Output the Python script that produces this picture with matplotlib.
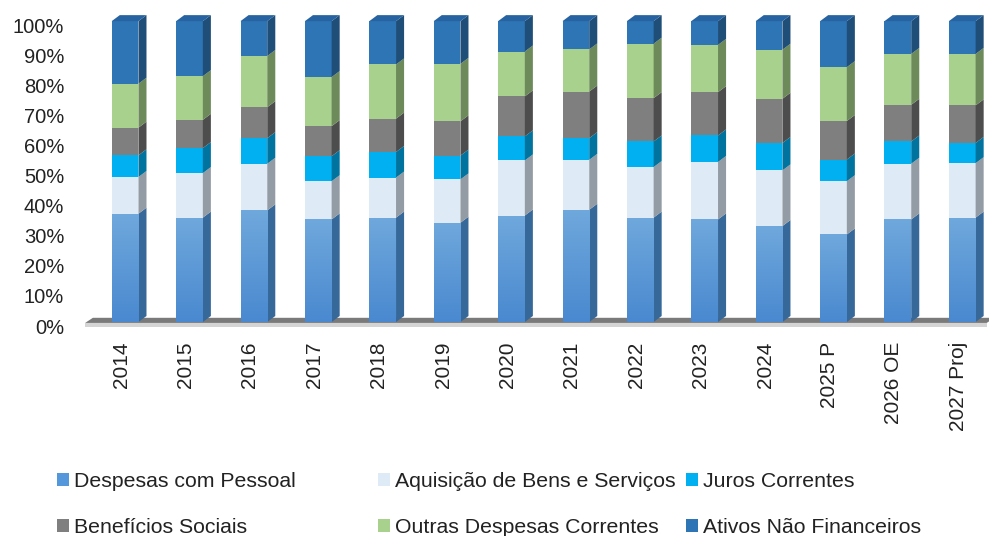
import numpy as np
import matplotlib
matplotlib.use('Agg')
import matplotlib.pyplot as plt
from matplotlib.patches import Polygon
from matplotlib.transforms import ScaledTranslation

# data (percent of total expenditure)
years = ['2014', '2015', '2016', '2017', '2018', '2019', '2020', '2021',
         '2022', '2023', '2024', '2025 P', '2026 OE', '2027 Proj']
pessoal = [36.0, 34.7, 37.1, 34.1, 34.7, 33.0, 35.4, 37.3, 34.7, 34.1, 31.9, 29.1, 34.1, 34.7]
aquisicao = [12.2, 14.8, 15.5, 12.7, 13.3, 14.4, 18.3, 16.6, 16.8, 19.1, 18.5, 17.7, 18.5, 18.1]
juros = [7.2, 8.3, 8.5, 8.3, 8.5, 7.9, 8.0, 7.2, 8.5, 8.8, 9.1, 7.2, 7.4, 6.7]
beneficios = [9.2, 9.4, 10.3, 10.0, 11.1, 11.4, 13.3, 15.5, 14.4, 14.4, 14.7, 12.8, 12.2, 12.5]
outras = [14.6, 14.5, 17.0, 16.3, 18.0, 19.1, 14.9, 14.0, 18.1, 15.7, 16.3, 17.9, 16.9, 17.1]
ativos = [20.8, 18.3, 11.6, 18.6, 14.4, 14.2, 10.1, 9.4, 7.5, 7.9, 9.5, 15.3, 10.9, 10.9]

names = ['Despesas com Pessoal', 'Aquisição de Bens e Serviços', 'Juros Correntes',
         'Benefícios Sociais', 'Outras Despesas Correntes', 'Ativos Não Financeiros']
front = ['#5497DA', '#DEEBF7', '#00B0F0', '#7F7F7F', '#A9D18E', '#2E75B6']
side = ['#36689A', '#939CA5', '#00739F', '#4D4D4D', '#6C8A5A', '#1F4E79']

plt.rcParams['font.family'] = ['Liberation Sans', 'DejaVu Sans']

fig = plt.figure(figsize=(9.89, 5.36), dpi=100)
ax = fig.add_axes([0.0874, 0.388, 0.9116, 0.595])

data = np.array([pessoal, aquisicao, juros, beneficios, outras, ativos])
data = data / data.sum(axis=0) * 100
x = np.arange(len(years))
n = len(years)
w = 0.415
dx, dy = 0.125, 2.0  # fake 3d depth

# floor
ax.add_patch(Polygon([(-0.62, -1.6), (n - 0.62, -1.6), (n - 0.62, -0.3), (-0.62, -0.3)],
                     color='#d4d4d4', lw=0, zorder=1, clip_on=False))
ax.add_patch(Polygon([(-0.62, -0.3), (n - 0.62, -0.3), (n - 0.5, 1.4), (-0.5, 1.4)],
                     color='#7a7a7a', lw=0, zorder=1, clip_on=False))

handles = []
bottom = np.zeros(n)
for k in range(len(data)):
    b = ax.bar(x, data[k], w, bottom=bottom, color=front[k], lw=0, zorder=3, label=names[k])
    handles.append(b)
    for i in range(n):
        x1 = x[i] + w / 2
        y0 = bottom[i]
        y1 = bottom[i] + data[k][i]
        ax.add_patch(Polygon([(x1, y0), (x1 + dx, y0 + dy), (x1 + dx, y1 + dy), (x1, y1)],
                             color=side[k], lw=0, zorder=3, clip_on=False))
    bottom += data[k]

# gradient on the personnel bars (lighter at top)
grad = np.linspace(0, 1, 100).reshape(-1, 1)
cmap = matplotlib.colors.LinearSegmentedColormap.from_list('g', ['#4A89D0', '#6FA8DC'])
for rect in handles[0].patches:
    bx, by = rect.get_x(), rect.get_y()
    im = ax.imshow(grad, cmap=cmap, origin='lower', aspect='auto', zorder=3.5,
                   extent=(bx, bx + rect.get_width(), by, by + rect.get_height()))
    im.set_clip_path(rect)

# top faces
for i in range(n):
    x0, x1 = x[i] - w / 2, x[i] + w / 2
    ax.add_patch(Polygon([(x0, 100), (x0 + dx, 100 + dy), (x1 + dx, 100 + dy), (x1, 100)],
                         color='#2763A0', lw=0, zorder=3, clip_on=False))

ax.set_xlim(-0.6, 13.4)
ax.set_ylim(-2, 104)
ax.set_yticks(range(0, 101, 10))
ax.set_yticklabels([f'{v}%' for v in range(0, 101, 10)], fontsize=14.5, color='#222222')
ax.set_xticks(x)
ax.set_xticklabels(years, rotation=90, fontsize=15, color='#222222')
ax.tick_params(axis='y', length=0, pad=16)
ax.tick_params(axis='x', length=0, pad=10)
for s in ax.spines.values():
    s.set_visible(False)

for lab in ax.get_yticklabels():
    lab.set_transform(lab.get_transform() + ScaledTranslation(0, -0.04, fig.dpi_scale_trans))
for lab in ax.get_xticklabels():
    lab.set_transform(lab.get_transform() + ScaledTranslation(-0.04, 0, fig.dpi_scale_trans))

# legend: 3 columns, 2 rows
cols = [[0, 3], [1, 4], [2, 5]]
xs = [57, 378, 686]
for c, xp in zip(cols, xs):
    leg = fig.legend([handles[j] for j in c], [names[j] for j in c], loc='center left',
                     bbox_to_anchor=(xp / 989, 1 - 504.5 / 536), frameon=False, fontsize=15.3,
                     handlelength=0.55, handleheight=0.55, handletextpad=0.25,
                     labelspacing=1.3, borderpad=0, borderaxespad=0)
    for t in leg.get_texts():
        t.set_color('#222222')

plt.savefig('out.png', dpi=100)
